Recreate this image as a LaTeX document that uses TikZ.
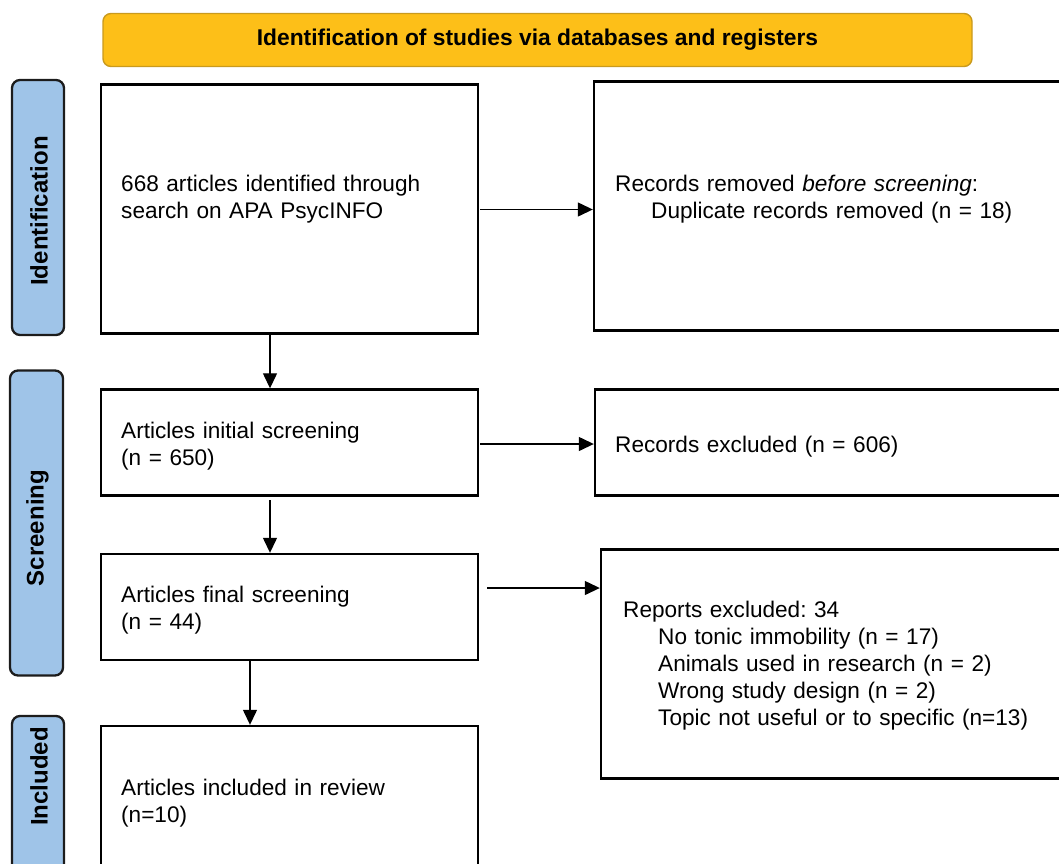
\documentclass[tikz,border=0pt]{standalone}
\usepackage{fontspec}
\setmainfont{Liberation Sans}
\usetikzlibrary{arrows.meta}
\definecolor{bannerfill}{HTML}{FDBF18}
\definecolor{bannerline}{HTML}{C99A1E}
\definecolor{labelfill}{HTML}{9FC4E8}
\definecolor{labelline}{HTML}{1C1C1C}
\tikzset{
  boxnode/.style={draw=black, line width=2.4pt, fill=white, rectangle, inner sep=0pt},
  phaselabel/.style={draw=labelline, line width=2.3pt, fill=labelfill, rounded corners=8pt, inner sep=0pt},
  banner/.style={draw=bannerline, line width=1.4pt, fill=bannerfill, rounded corners=8pt, inner sep=0pt},
  bodytext/.style={font=\fontsize{22.6}{27.4}\selectfont, anchor=base west, inner sep=0pt, text width=420pt, align=left},
  phasetext/.style={font=\fontsize{24}{28}\selectfont\bfseries, rotate=90, inner sep=0pt},
  arr/.style={line width=1.3pt, -{Triangle[length=15pt,width=14pt]}},
}
\begin{document}
\frenchspacing
\begin{tikzpicture}[x=1pt,y=-1pt]
\useasboundingbox (0,0) rectangle (1059,863);
% banner
\node[banner, minimum width=869pt, minimum height=53pt, font=\fontsize{22.8}{27}\selectfont\bfseries] (ban) at (537.5,40) {Identification of studies via databases and registers};
% phase labels
\node[phaselabel, minimum width=52pt, minimum height=255pt] (lid) at (38,207.5) {};
\node[phasetext] (tid) at (39,211) {Identification};
\node[phaselabel, minimum width=53pt, minimum height=305pt] (lsc) at (36.5,523) {};
\node[phasetext] (tsc) at (37.5,528) {Screening};
\node[phaselabel, minimum width=52pt, minimum height=170pt] (lin) at (38,801) {};
\node[phasetext] (tin) at (39,776.5) {Included};
% left boxes
\node[boxnode, minimum width=377pt, minimum height=249pt] (b1) at (289.5,209) {};
\node[boxnode, minimum width=377pt, minimum height=106pt] (b3) at (289.5,442.5) {};
\node[boxnode, minimum width=377pt, minimum height=106pt] (b5) at (289.5,607) {};
\node[boxnode, minimum width=377pt, minimum height=160pt] (b7) at (289.5,806) {};
% right boxes
\node[boxnode, minimum width=490pt, minimum height=249pt] (b2) at (839,206) {};
\node[boxnode, minimum width=490pt, minimum height=106pt] (b4) at (840,442.5) {};
\node[boxnode, minimum width=490pt, minimum height=229pt] (b6) at (846,664) {};
% texts
\node[bodytext] (t1) at (121,191.5) {668 articles identified through\\search on APA PsycINFO};
\node[bodytext] (t2) at (615,191) {Records removed \textit{before screening}:\\\hspace*{36pt}Duplicate records removed (n = 18)};
\node[bodytext] (t3) at (121,438) {Articles initial screening\\(n = 650)};
\node[bodytext] (t4) at (615,452) {Records excluded (n = 606)};
\node[bodytext, font=\fontsize{22.6}{27}\selectfont] (t6) at (623,617) {Reports excluded: 34\\\hspace*{35pt}No tonic immobility (n = 17)\\\hspace*{35pt}Animals used in research (n = 2)\\\hspace*{35pt}Wrong study design (n = 2)\\\hspace*{35pt}Topic not useful or to specific (n=13)};
\node[bodytext] (t5) at (121,602.5) {Articles final screening\\(n = 44)};
\node[bodytext] (t7) at (121,795) {Articles included in review\\(n=10)};
% connectors
\coordinate (c12) at (480,209.5);
\draw[arr] (c12) -- (c12 -| b2.west);
\coordinate (c34) at (480,444);
\draw[arr] (c34) -- (c34 -| b4.west);
\coordinate (c56) at (487,588);
\draw[arr] (c56) -- (c56 -| b6.west);
\coordinate (d1) at (270,334);
\draw[arr] (d1) -- (d1 |- b3.north);
\coordinate (d2) at (270,500);
\draw[arr] (d2) -- (d2 |- b5.north);
\coordinate (d3) at (250,661);
\draw[arr] (d3) -- (d3 |- b7.north);
\end{tikzpicture}
\end{document}
